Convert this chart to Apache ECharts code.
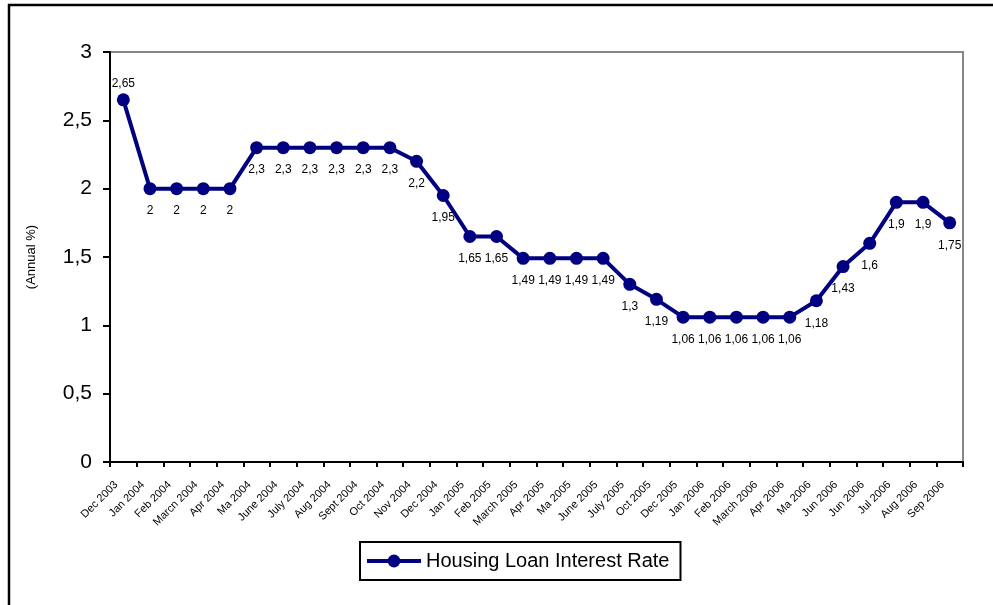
<!DOCTYPE html>
<html>
<head>
<meta charset="utf-8">
<script src="https://cdn.jsdelivr.net/npm/echarts@6/dist/echarts.min.js"></script>
<style>
  html, body { margin: 0; padding: 0; background: #fff; }
  #chart { width: 993px; height: 605px; }
</style>
</head>
<body>
<div id="chart"></div>
<script>
// Month labels along the horizontal axis
const months = [
  'Dec 2003', 'Jan 2004', 'Feb 2004', 'Marcn 2004', 'Apr 2004', 'Ma 2004',
  'June 2004', 'July 2004', 'Aug 2004', 'Sept 2004', 'Oct 2004', 'Nov 2004',
  'Dec 2004', 'Jan 2005', 'Feb 2005', 'March 2005', 'Apr 2005', 'Ma 2005',
  'June 2005', 'July 2005', 'Oct 2005', 'Dec 2005', 'Jan 2006', 'Feb 2006',
  'March 2006', 'Apr 2006', 'Ma 2006', 'Jun 2006', 'Jun 2006', 'Jul 2006',
  'Aug 2006', 'Sep 2006'
];

// Housing loan interest rate, annual %
const rates = [
  2.65, 2, 2, 2, 2, 2.3,
  2.3, 2.3, 2.3, 2.3, 2.3, 2.2,
  1.95, 1.65, 1.65, 1.49, 1.49, 1.49,
  1.49, 1.3, 1.19, 1.06, 1.06, 1.06,
  1.06, 1.06, 1.18, 1.43, 1.6, 1.9,
  1.9, 1.75
];

const seriesName = 'Housing Loan Interest Rate';
const axisName = '(Annual %)';

const FONT = '"Liberation Sans", Arial, sans-serif';
const NAVY = '#000080';

// decimal comma
const fmt = v => String(v).replace('.', ',');

const chart = echarts.init(document.getElementById('chart'), null, { renderer: 'canvas' });

chart.setOption({
  backgroundColor: '#fff',
  animation: false,
  textStyle: { fontFamily: FONT },
  graphic: [{
    type: 'rect',
    silent: true,
    shape: { x: 9, y: 5, width: 1100, height: 700 },
    style: { fill: 'none', stroke: '#000', lineWidth: 2.5 }
  }],
  grid: {
    left: 110, top: 52, right: 30, bottom: 143,
    show: true, borderColor: '#888', borderWidth: 2, backgroundColor: 'transparent'
  },
  legend: {
    left: 360, top: 542,
    padding: [9, 11, 9, 5],
    borderColor: '#000', borderWidth: 2,
    itemWidth: 54, itemHeight: 16, itemGap: 0,
    lineStyle: { width: 4 },
    textStyle: { fontFamily: FONT, fontSize: 20, color: '#000' },
    data: [seriesName]
  },
  xAxis: {
    type: 'category',
    data: months,
    boundaryGap: true,
    axisLine: { lineStyle: { color: '#000', width: 2 } },
    axisTick: { show: true, length: 5, alignWithLabel: false, lineStyle: { color: '#000', width: 2 } },
    axisLabel: {
      interval: 0, rotate: 45, fontSize: 11, color: '#000', fontFamily: FONT,
      margin: 14, padding: [0, 10, 0, 0]
    },
    splitLine: { show: false }
  },
  yAxis: {
    type: 'value',
    min: 0, max: 3, interval: 0.5,
    name: axisName,
    nameLocation: 'middle',
    nameGap: 72,
    nameRotate: 90,
    nameTextStyle: { fontSize: 13, color: '#000', fontFamily: FONT },
    axisLine: { show: true, lineStyle: { color: '#000', width: 2 } },
    axisTick: { show: true, length: 7, lineStyle: { color: '#000', width: 2 } },
    axisLabel: {
      fontSize: 21, color: '#000', fontFamily: FONT, margin: 18,
      formatter: v => fmt(v)
    },
    splitLine: { show: false }
  },
  series: [{
    name: seriesName,
    type: 'line',
    // the first point carries its label above the marker
    data: rates.map((v, i) => i === 0
      ? { value: v, label: { position: 'top', distance: 4 } }
      : v),
    symbol: 'circle',
    symbolSize: 13,
    lineStyle: { color: NAVY, width: 4 },
    itemStyle: { color: NAVY },
    label: {
      show: true,
      position: 'bottom',
      distance: 10,
      fontSize: 12,
      color: '#000',
      fontFamily: FONT,
      formatter: p => fmt(p.value)
    }
  }]
});
</script>
</body>
</html>
